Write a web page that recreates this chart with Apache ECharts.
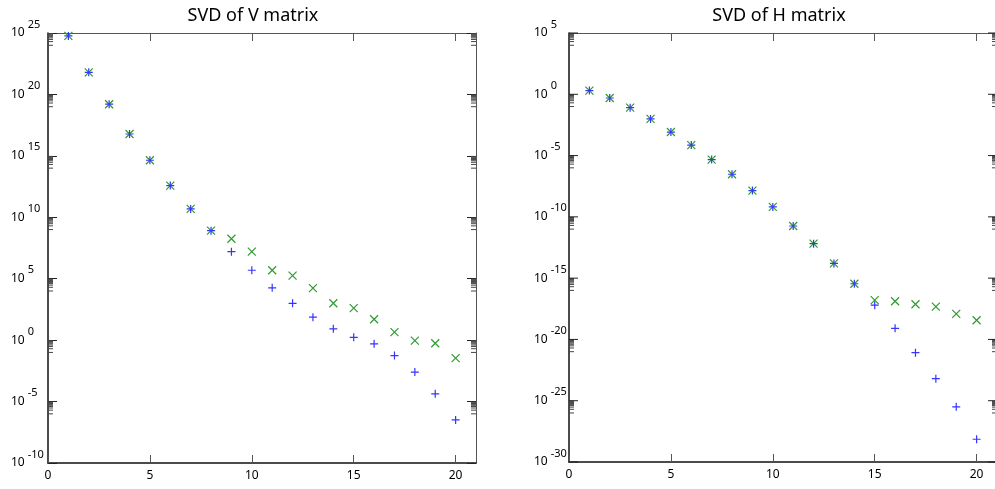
<!DOCTYPE html>
<html><head><meta charset="utf-8">
<script src="https://cdn.jsdelivr.net/npm/echarts@6/dist/echarts.min.js"></script>
<style>html,body{margin:0;padding:0;background:#fff}#c{width:995px;height:489px}</style>
</head><body><div id="c"></div>
<script>
// ---- data ----
const ranks = [1,2,3,4,5,6,7,8,9,10,11,12,13,14,15,16,17,18,19,20];
const titles = ['SVD of V matrix', 'SVD of H matrix'];
// SVD of V matrix
const vCross = [5.8e24,6.3e21,1.6e19,6.0e16,4.4e14,3.8e12,4.8e10,8.1e8,1.8e8,1.6e7,4.9e5,1.8e5,1.7e4,1.0e3,4.0e2,50,4.5,0.91,0.56,0.034];
const vPlus  = [5.8e24,6.3e21,1.6e19,6.0e16,4.4e14,3.8e12,4.8e10,8.1e8,1.6e7,4.9e5,1.8e4,1.0e3,74,8.3,1.7,0.5,0.055,2.5e-3,4.3e-5,3.2e-7];
// SVD of H matrix
const hCross = [2.0,0.5,0.081,9.8e-3,8.3e-4,7.2e-5,4.7e-6,3.0e-7,1.4e-8,6.5e-10,1.8e-11,6.5e-13,1.6e-14,3.5e-16,1.6e-17,1.3e-17,7.4e-18,4.8e-18,1.2e-18,3.7e-19];
const hPlus  = [2.0,0.5,0.081,9.8e-3,8.3e-4,7.2e-5,4.7e-6,3.0e-7,1.4e-8,6.5e-10,1.8e-11,6.5e-13,1.6e-14,3.5e-16,6.2e-18,8.1e-20,8.3e-22,6.3e-24,3.2e-26,7.2e-29];
const xTicks = [0,5,10,15,20];
const vDecades = [-10,-5,0,5,10,15,20,25];
const hDecades = [-30,-25,-20,-15,-10,-5,0,5];

// ---- styling ----
const FONT = 'Noto Sans';
const BLUE = '#3535ff';
const GREEN = '#2f9a2f';
const grids = [
  {left: 48, width: 428, top: 33, height: 430},
  {left: 569, width: 428, top: 33, height: 429}
];
const decadeSets = [vDecades, hDecades];
const labelMargins = [37, 35];
const titleCenters = [248, 774];
const RICH = {
  b: {fontFamily: FONT, fontSize: 12, color: '#000', lineHeight: 28, verticalAlign: 'middle'},
  s: {fontFamily: FONT, fontSize: 11, color: '#000', lineHeight: 12, verticalAlign: 'top', padding: [0, 0, 0, 3]}
};
function expLabel(v) { return '{b|10}{s|' + Math.round(Math.log10(v)) + '}'; }

function minorTicks(decades) {
  const lo = Math.min(...decades);
  const out = [];
  decades.forEach(M => {
    for (let k = 1; k <= 9; k++) {
      const e = (M - 1) + Math.log10(k);
      if (e >= lo) out.push(Math.pow(10, e));
    }
  });
  return out;
}

const xAxis = [], yAxis = [], series = [], title = [];
grids.forEach((g, i) => {
  const dec = decadeSets[i];
  const ymin = Math.pow(10, Math.min(...dec));
  const ymax = Math.pow(10, Math.max(...dec));
  // ECharts' built-in log ticks round values below 1e-10 to zero, so the H plot draws its decade ticks itself
  const nativeTicks = ymin >= 1e-10;
  title.push({text: titles[i], left: titleCenters[i], top: 2, textAlign: 'center',
    textStyle: {fontFamily: FONT, fontSize: 18, fontWeight: 'normal', color: '#000'}});
  xAxis.push({gridIndex: i, type: 'value', position: 'bottom', min: 0, max: 21, interval: 5,
    axisLine: {show: true, onZero: false, lineStyle: {color: '#111', width: 1.5}},
    axisTick: {show: true, inside: true, length: 8, lineStyle: {color: '#555'}},
    axisLabel: {show: true, margin: 7, fontFamily: FONT, fontSize: 12, color: '#000',
      showMaxLabel: false, formatter: v => (xTicks.indexOf(v) >= 0 ? String(v) : '')},
    splitLine: {show: false}});
  xAxis.push({gridIndex: i, type: 'value', position: 'top', min: 0, max: 21, interval: 5,
    axisLine: {show: true, onZero: false, lineStyle: {color: '#555', width: 1}},
    axisTick: {show: true, inside: true, length: 8, lineStyle: {color: '#555'}},
    axisLabel: {show: false}, splitLine: {show: false}});
  yAxis.push({gridIndex: i, type: 'log', logBase: 10, position: 'left', min: ymin, max: ymax,
    interval: nativeTicks ? 5 : undefined, splitNumber: 7,
    axisLine: {show: true, onZero: false, lineStyle: {color: '#111', width: 1.5}},
    axisTick: {show: nativeTicks, inside: true, length: 9, lineStyle: {color: '#222'}},
    axisLabel: {show: nativeTicks, align: 'left', margin: labelMargins[i], formatter: expLabel, rich: RICH},
    splitLine: {show: false}});
  yAxis.push({gridIndex: i, type: 'log', logBase: 10, position: 'right', min: ymin, max: ymax,
    interval: nativeTicks ? 5 : undefined, splitNumber: 7,
    axisLine: {show: true, onZero: false, lineStyle: {color: '#555', width: 1}},
    axisTick: {show: nativeTicks, inside: true, length: 9, lineStyle: {color: '#222'}},
    axisLabel: {show: false}, splitLine: {show: false}});

  const xi = i * 2, yi = i * 2;
  if (!nativeTicks) {
    const margin = labelMargins[i];
    series.push({
      type: 'custom', xAxisIndex: xi, yAxisIndex: yi, silent: true, z: 2, clip: false,
      data: dec.map(M => [1, Math.pow(10, M)]),
      renderItem: function (params, api) {
        const cs = params.coordSys;
        const v = api.value(1);
        const y = api.coord([api.value(0), v])[1];
        return {type: 'group', children: [
          {type: 'line', shape: {x1: cs.x, y1: y, x2: cs.x + 9, y2: y}, style: {stroke: '#222', lineWidth: 1}},
          {type: 'line', shape: {x1: cs.x + cs.width - 9, y1: y, x2: cs.x + cs.width, y2: y}, style: {stroke: '#222', lineWidth: 1}},
          {type: 'text', x: cs.x - margin, y: y,
            style: {text: expLabel(v), rich: RICH, align: 'left', verticalAlign: 'middle'}}
        ]};
      }
    });
  }
  series.push({
    type: 'custom', xAxisIndex: xi, yAxisIndex: yi, silent: true, z: 1, clip: false,
    data: minorTicks(dec).map(v => [1, v]),
    renderItem: function (params, api) {
      const cs = params.coordSys;
      const y = api.coord([api.value(0), api.value(1)])[1];
      return {type: 'group', children: [
        {type: 'line', shape: {x1: cs.x, y1: y, x2: cs.x + 5, y2: y}, style: {stroke: '#444', lineWidth: 1}},
        {type: 'line', shape: {x1: cs.x + cs.width - 5, y1: y, x2: cs.x + cs.width, y2: y}, style: {stroke: '#444', lineWidth: 1}}
      ]};
    }
  });
  const cross = i === 0 ? vCross : hCross;
  const plus = i === 0 ? vPlus : hPlus;
  series.push({
    type: 'scatter', xAxisIndex: xi, yAxisIndex: yi, z: 3,
    symbol: 'path://M0,0L10,10M10,0L0,10', symbolSize: 8,
    itemStyle: {color: GREEN, borderColor: GREEN, borderWidth: 1.2, opacity: 1},
    data: ranks.map((r, j) => [r, cross[j]])
  });
  series.push({
    type: 'scatter', xAxisIndex: xi, yAxisIndex: yi, z: 4,
    symbol: 'path://M0,5L10,5M5,0L5,10', symbolSize: 8,
    itemStyle: {color: BLUE, borderColor: BLUE, borderWidth: 1.2, opacity: 1},
    data: ranks.map((r, j) => [r, plus[j]])
  });
});

const chart = echarts.init(document.getElementById('c'), null, {renderer: 'canvas'});
chart.setOption({
  animation: false,
  backgroundColor: '#fff',
  title: title,
  grid: grids.map(g => Object.assign({containLabel: false, outerBoundsMode: 'none'}, g)),
  xAxis: xAxis,
  yAxis: yAxis,
  series: series
});
</script>
</body></html>
